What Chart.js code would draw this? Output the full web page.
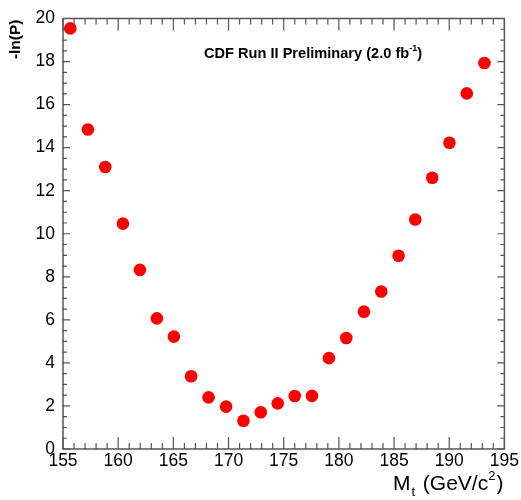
<!DOCTYPE html>
<html>
<head>
<meta charset="utf-8">
<script src="https://cdn.jsdelivr.net/npm/chart.js@4"></script>
<style>
  html, body { margin: 0; padding: 0; background: #fff; }
  #wrap { width: 521px; height: 500px; }
</style>
</head>
<body>
<div id="wrap"><canvas id="likelihoodChart" width="521" height="500"></canvas></div>
<script>
// --- DATA ---
const topMass = [155.66, 157.26, 158.83, 160.43, 161.97, 163.51, 165.05, 166.61, 168.19, 169.78,
                 171.35, 172.92, 174.46, 176.0, 177.56, 179.10, 180.67, 182.27, 183.84, 185.41,
                 186.92, 188.46, 190.02, 191.59, 193.19];
const negLogP = [19.54, 14.84, 13.10, 10.47, 8.32, 6.07, 5.22, 3.38, 2.40, 1.97,
                 1.31, 1.71, 2.12, 2.46, 2.47, 4.22, 5.16, 6.38, 7.32, 8.98,
                 10.66, 12.60, 14.23, 16.52, 17.93];
const xRange = [155, 195];
const yRange = [0, 20];
const xMajorStep = 5, xMinorStep = 1;
const yMajorStep = 2, yMinorStep = 0.5;

const FONT = '"Liberation Sans", Arial, Helvetica, sans-serif';
const AXIS_COLOR = '#555';

// ROOT style frame: ticks pointing inwards on all four sides, plus titles with sub/superscript
const rootFrame = {
    id: 'rootFrame',
    afterDatasetsDraw(chart) {
        const ctx = chart.ctx;
        const xs = chart.scales.x, ys = chart.scales.y;
        const a = chart.chartArea;
        ctx.save();
        ctx.strokeStyle = AXIS_COLOR;
        ctx.lineWidth = 1.5;
        ctx.strokeRect(a.left, a.top, a.right - a.left, a.bottom - a.top);

        ctx.lineWidth = 1.2;
        ctx.beginPath();
        // x ticks (bottom and top)
        for (let v = xRange[0]; v <= xRange[1] + 1e-9; v += xMinorStep) {
            const px = xs.getPixelForValue(v);
            const len = (Math.abs(v % xMajorStep) < 1e-6) ? 12 : 6;
            ctx.moveTo(px, a.bottom); ctx.lineTo(px, a.bottom - len);
            ctx.moveTo(px, a.top); ctx.lineTo(px, a.top + len);
        }
        // y ticks (left and right)
        for (let v = yRange[0]; v <= yRange[1] + 1e-9; v += yMinorStep) {
            const py = ys.getPixelForValue(v);
            const len = (Math.abs(v % yMajorStep) < 1e-6) ? 7 : 4;
            ctx.moveTo(a.left, py); ctx.lineTo(a.left + len, py);
            ctx.moveTo(a.right, py); ctx.lineTo(a.right - len, py);
        }
        ctx.stroke();

        ctx.fillStyle = '#000';
        ctx.textBaseline = 'alphabetic';

        // x axis title: M_t (GeV/c^2), right aligned to the frame
        const big = 21, small = 13;
        const parts = [
            { t: 'M', size: big, dy: 0, gap: 1 },
            { t: 't', size: small, dy: 6, gap: 2 },
            { t: ' (GeV/c', size: big, dy: 0, gap: 0 },
            { t: '2', size: small, dy: -10, gap: 1 },
            { t: ')', size: big, dy: 0, gap: 0 }
        ];
        let total = 0;
        parts.forEach(p => {
            ctx.font = p.size + 'px ' + FONT;
            p.w = ctx.measureText(p.t).width + p.gap;
            total += p.w;
        });
        let x = a.right - 1 - total;
        const base = 490;
        parts.forEach(p => {
            ctx.font = p.size + 'px ' + FONT;
            ctx.fillText(p.t, x, base + p.dy);
            x += p.w;
        });

        // y axis title, rotated, ending at the top of the frame
        ctx.save();
        ctx.translate(16, a.top + 1);
        ctx.rotate(-Math.PI / 2);
        ctx.font = 'bold 15.5px ' + FONT;
        ctx.textAlign = 'right';
        ctx.textBaseline = 'middle';
        ctx.fillText('-ln(P)', 0, 0);
        ctx.restore();

        // CDF label
        const lab = [
            { t: 'CDF Run II Preliminary (2.0 fb', size: 14.6, dy: 0 },
            { t: '-1', size: 9, dy: -7 },
            { t: ')', size: 14.6, dy: 0 }
        ];
        x = 204;
        lab.forEach(p => {
            ctx.font = 'bold ' + p.size + 'px ' + FONT;
            ctx.fillText(p.t, x, 58 + p.dy);
            x += ctx.measureText(p.t).width;
        });
        ctx.restore();
    }
};

const ctx = document.getElementById('likelihoodChart').getContext('2d');
new Chart(ctx, {
    type: 'scatter',
    data: {
        datasets: [{
            label: '-ln(P)',
            data: topMass.map((m, i) => ({ x: m, y: negLogP[i] })),
            backgroundColor: '#ff0000',
            borderWidth: 0,
            pointRadius: 6.3,
            pointHoverRadius: 6.3
        }]
    },
    options: {
        responsive: false,
        animation: false,
        events: [],
        layout: { padding: { top: 12, right: 16, left: 0, bottom: 0 } },
        plugins: { legend: { display: false }, tooltip: { enabled: false } },
        scales: {
            x: {
                type: 'linear',
                min: xRange[0], max: xRange[1],
                grid: { display: false, drawTicks: false },
                border: { display: false },
                ticks: {
                    stepSize: xMajorStep, autoSkip: false, maxRotation: 0,
                    padding: 2, color: '#000',
                    font: { family: FONT, size: 17.5 }
                },
                afterFit: (s) => { s.height = 51; }
            },
            y: {
                min: yRange[0], max: yRange[1],
                grid: { display: false, drawTicks: false },
                border: { display: false },
                ticks: {
                    stepSize: yMajorStep, autoSkip: false,
                    padding: 8, color: '#000',
                    font: { family: FONT, size: 17.5 }
                },
                afterFit: (s) => { s.width = 63; }
            }
        }
    },
    plugins: [rootFrame]
});
</script>
</body>
</html>
